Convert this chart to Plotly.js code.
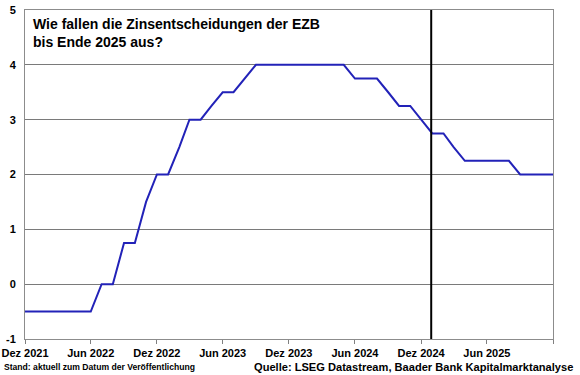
<!DOCTYPE html>
<html>
<head>
<meta charset="utf-8">
<script src="https://cdn.plot.ly/plotly-3.0.1.min.js"></script>
<style>html,body{margin:0;padding:0;background:#fff;}#chart{width:580px;height:375px;}</style>
</head>
<body>
<div id="chart"></div>
<script>
var months = [
  "2021-12-01","2022-01-01","2022-02-01","2022-03-01","2022-04-01","2022-05-01","2022-06-01",
  "2022-07-01","2022-08-01","2022-09-01","2022-10-01","2022-11-01","2022-12-01",
  "2023-01-01","2023-02-01","2023-03-01","2023-04-01","2023-05-01","2023-06-01",
  "2023-07-01","2023-08-01","2023-09-01","2023-10-01","2023-11-01","2023-12-01",
  "2024-01-01","2024-02-01","2024-03-01","2024-04-01","2024-05-01","2024-06-01",
  "2024-07-01","2024-08-01","2024-09-01","2024-10-01","2024-11-01","2024-12-01",
  "2025-01-01","2025-02-01","2025-03-01","2025-04-01","2025-05-01","2025-06-01",
  "2025-07-01","2025-08-01","2025-09-01","2025-10-01","2025-11-01","2025-12-01"
];
var rate = [
  -0.5,-0.5,-0.5,-0.5,-0.5,-0.5,-0.5,
  0,0,0.75,0.75,1.5,2.0,
  2.0,2.5,3.0,3.0,3.25,3.5,
  3.5,3.75,4.0,4.0,4.0,4.0,
  4.0,4.0,4.0,4.0,4.0,3.75,
  3.75,3.75,3.5,3.25,3.25,3.0,
  2.75,2.75,2.5,2.25,2.25,2.25,
  2.25,2.25,2.0,2.0,2.0,2.0
];
var forecastStart = "2024-12-29";
var tickDates = ["2021-12-01","2022-06-01","2022-12-01","2023-06-01","2023-12-01","2024-06-01","2024-12-01","2025-06-01","2025-12-01"];
var tickLabels = ["Dez 2021","Jun 2022","Dez 2022","Jun 2023","Dez 2023","Jun 2024","Dez 2024","Jun 2025",""];
var yTicks = [-1,0,1,2,3,4,5];

var traces = [
  {x: months, y: rate, type: "scatter", mode: "lines",
   line: {color: "#2222b8", width: 2}, hoverinfo: "skip"},
  {x: [forecastStart, forecastStart], y: [-1, 5], type: "scatter", mode: "lines",
   line: {color: "#000000", width: 2}, hoverinfo: "skip"}
];

var FAM = "Liberation Sans, Arial, sans-serif";
var boldFont = {family: FAM, size: 11, color: "#000"};

var layout = {
  width: 580, height: 375,
  margin: {l: 25, r: 27, t: 10, b: 36, pad: 0},
  paper_bgcolor: "#fff", plot_bgcolor: "#fff",
  showlegend: false,
  font: boldFont,
  xaxis: {
    type: "date",
    range: ["2021-12-01", "2025-12-01"],
    tickmode: "array", tickvals: tickDates, ticktext: tickLabels.map(function(t){return t ? "<b>"+t+"</b>" : "";}),
    ticks: "outside", ticklen: 4, tickcolor: "#808080", tickwidth: 1,
    showgrid: false, zeroline: false,
    showline: true, linecolor: "#8c8c8c", linewidth: 1, mirror: true,
    tickfont: boldFont, tickangle: 0
  },
  yaxis: {
    range: [-1, 5],
    tickmode: "array", tickvals: yTicks, ticktext: yTicks.map(function(v){return "<b>"+v+"</b>";}),
    ticks: "", showgrid: true, gridcolor: "#7a7a7a", gridwidth: 1,
    zeroline: false,
    showline: true, linecolor: "#8c8c8c", linewidth: 1, mirror: true,
    tickfont: boldFont, ticklabelstandoff: 6
  },
  annotations: [
    {text: "<b>Wie fallen die Zinsentscheidungen der EZB<br>bis Ende 2025 aus?</b>", xref: "paper", yref: "paper",
     x: (31-25)/528, y: (339-14)/329, xanchor: "left", yanchor: "top", align: "left", showarrow: false,
     font: {family: FAM, size: 14, color: "#000"}},
    {text: "<b>Stand: aktuell zum Datum der Veröffentlichung</b>", xref: "paper", yref: "paper",
     x: (2-25)/528, y: (339-367)/329, xanchor: "left", yanchor: "middle", showarrow: false,
     font: {family: FAM, size: 8.6, color: "#000"}},
    {text: "<b>Quelle: LSEG Datastream, Baader Bank Kapitalmarktanalyse</b>", xref: "paper", yref: "paper",
     x: (575-25)/528, y: (339-366.5)/329, xanchor: "right", yanchor: "middle", showarrow: false,
     font: {family: FAM, size: 11.1, color: "#000"}}
  ]
};

Plotly.newPlot("chart", traces, layout, {staticPlot: true, displayModeBar: false});
</script>
</body>
</html>
